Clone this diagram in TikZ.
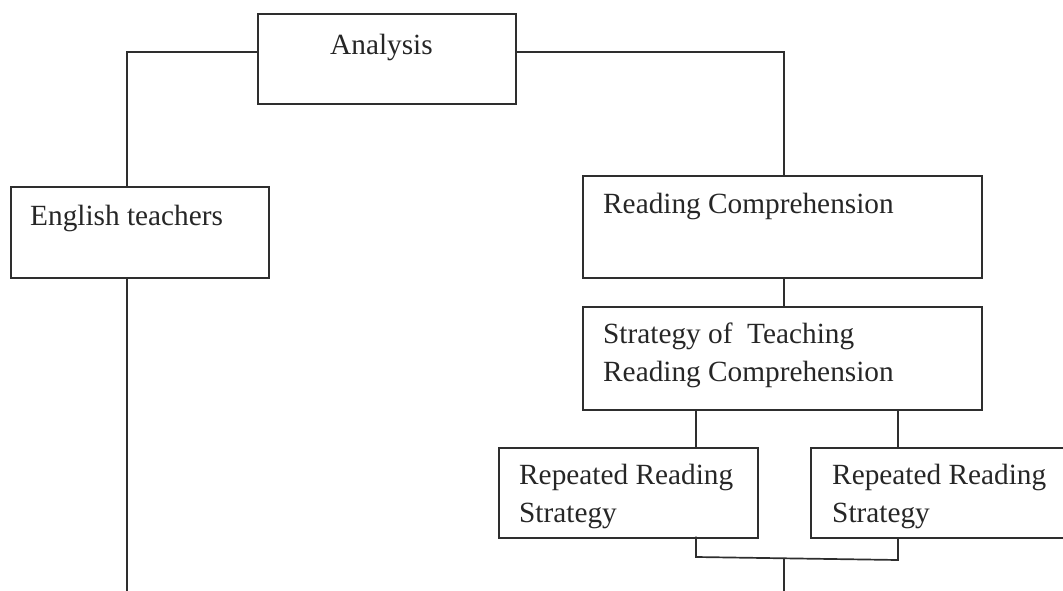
\documentclass[tikz,border=0pt]{standalone}
\usepackage{fontspec}
\setmainfont{Liberation Serif}
\begin{document}
\begin{tikzpicture}[x=1pt,y=-1pt,
  box/.style={draw=black!82, line width=1.7pt, fill=none, inner sep=0pt, anchor=north west},
  txt/.style={inner sep=0pt, anchor=base west, align=left, text=black!85, font=\fontsize{29.3}{37.5}\selectfont},
  conn/.style={draw=black!82, line width=1.7pt}]
\useasboundingbox (0,0) rectangle (1063,591);
\clip (0,0) rectangle (1063,591);
% boxes
\node[box, minimum width=258pt, minimum height=90pt] (ana) at (257,13) {};
\node[box, minimum width=258pt, minimum height=91pt] (eng) at (10,186) {};
\node[box, minimum width=399pt, minimum height=102pt] (rc) at (582,175) {};
\node[box, minimum width=399pt, minimum height=103pt] (st) at (582,306) {};
\node[box, minimum width=259pt, minimum height=90pt] (rep1) at (498,447) {};
\node[box, minimum width=259pt, minimum height=90pt] (rep2) at (810,447) {};
% texts (anchored at the baseline of the last line)
\node[txt] (tana) at (330,55) {Analysis};
\node[txt] (teng) at (30,225) {English teachers};
\node[txt] (trc) at (603,213) {Reading Comprehension};
\node[txt] (tst) at (603,381) {Strategy of\ \ Teaching\\Reading Comprehension};
\node[txt] (trep1) at (519,522) {Repeated Reading\\Strategy};
\node[txt] (trep2) at (832,522) {Repeated Reading\\Strategy};
% coordinates
\coordinate (engend) at (127,591);
\coordinate (j1) at (696,557);
\coordinate (j2) at (898,560);
\coordinate (jm) at (784,558);
\coordinate (bend) at (784,591);
% connectors
\draw[conn] (ana.west |- 0,52) -| (eng.north -| 127,0);
\draw[conn] (eng.south -| 127,0) -- (engend);
\draw[conn] (ana.east |- 0,52) -| (rc.north -| 784,0);
\draw[conn] (rc.south -| 784,0) -- (st.north -| 784,0);
\draw[conn] (st.south -| 696,0) -- (rep1.north -| 696,0);
\draw[conn] (st.south -| 898,0) -- (rep2.north -| 898,0);
\draw[conn] ([yshift=2pt]rep1.south -| 696,0) -- (j1) -- (j2) -- (rep2.south -| 898,0);
\draw[conn] (jm) -- (bend);
\end{tikzpicture}
\end{document}
